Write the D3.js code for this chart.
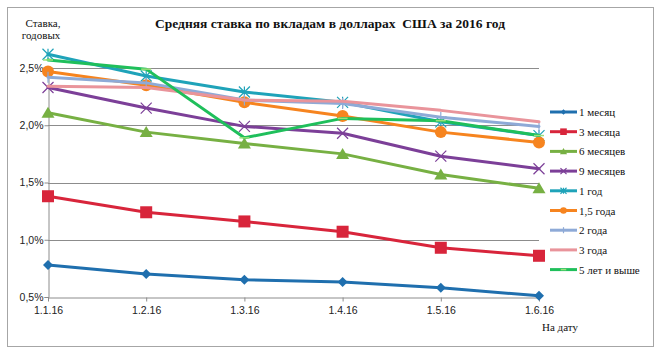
<!DOCTYPE html>
<html><head><meta charset="utf-8">
<script src="https://cdn.jsdelivr.net/npm/d3@7"></script>
<style>body{margin:0;background:#fff}svg{display:block}
.serif{font-family:"Liberation Serif","DejaVu Serif",serif}
.sans{font-family:"Liberation Sans",Arial,sans-serif}</style>
</head><body>
<script>
const categories = ["1.1.16","1.2.16","1.3.16","1.4.16","1.5.16","1.6.16"];
const seriesNames = ["1 месяц","3 месяца","6 месяцев","9 месяцев","1 год","1,5 года","2 года","3 года","5 лет и выше"];
const m1   = [0.78,0.70,0.65,0.63,0.58,0.51];
const m3   = [1.38,1.24,1.16,1.07,0.93,0.86];
const m6   = [2.11,1.94,1.84,1.75,1.57,1.45];
const m9   = [2.33,2.15,1.99,1.93,1.73,1.62];
const y1   = [2.62,2.43,2.29,2.20,2.03,1.91];
const y15  = [2.47,2.35,2.20,2.08,1.94,1.85];
const y2   = [2.42,2.37,2.22,2.19,2.07,1.99];
const y3   = [2.34,2.33,2.22,2.21,2.13,2.03];
const y5   = [2.57,2.49,1.89,2.06,2.04,1.91];
const yTicks = [0.5,1.0,1.5,2.0,2.5];
const seriesValues = [m1,m3,m6,m9,y1,y15,y2,y3,y5];
const colors = ["#1f6fae","#d8253b","#77b043","#7c3f98","#1fa3b9","#f6841f","#8eaad7","#e9949b","#1fbf5b"];
const markers = ["diamond","square","triangle","x","star","circle","plus","none","dash"];

const W=660,H=352;
const svg=d3.select("body").append("svg").attr("width",W).attr("height",H);
svg.append("rect").attr("x",7.5).attr("y",7.5).attr("width",646).attr("height",339)
  .attr("fill","#fff").attr("stroke","#a6a6a6").attr("stroke-width",1);

const x=d3.scalePoint().domain(categories).range([48,539]);
const y=d3.scaleLinear().domain([0.5,2.5]).range([297,68]);

// gridlines
svg.append("g").selectAll("line").data(yTicks.slice(1)).join("line")
  .attr("x1",48).attr("x2",539).attr("y1",d=>Math.round(y(d))+0.5).attr("y2",d=>Math.round(y(d))+0.5)
  .attr("stroke","#8c8c8c").attr("stroke-width",1);

// y axis
const ya=svg.append("g").attr("transform","translate(48.5,0)")
  .call(d3.axisLeft(y).tickValues(yTicks).tickSize(4).tickFormat(d=>d3.format(".1f")(d).replace(".",",")+"%"));
ya.select(".domain").attr("stroke","#8c8c8c");
ya.selectAll(".tick line").attr("stroke","#8c8c8c");
ya.selectAll(".tick text").attr("font-family",null).attr("class","sans").attr("font-size",10.5).attr("fill","#222").attr("x",-5);
ya.attr("font-family",null);

// x axis
const xa=svg.append("g").attr("transform","translate(0,297.5)")
  .call(d3.axisBottom(x).tickSize(4).tickSizeOuter(0));
xa.attr("font-family",null);
xa.select(".domain").attr("stroke","#8c8c8c");
xa.selectAll(".tick line").attr("stroke","#8c8c8c");
xa.selectAll(".tick text").attr("class","sans").attr("font-size",10.5).attr("fill","#222").attr("dy","0.9em");

// titles
svg.append("text").attr("class","serif").attr("x",330).attr("y",28).attr("text-anchor","middle")
  .attr("font-weight","bold").attr("font-size",13.5)
  .attr("fill","#111").attr("xml:space","preserve").style("white-space","pre").text("Средняя ставка по вкладам в долларах  США за 2016 год");
svg.append("text").attr("class","serif").attr("x",43).attr("y",27).attr("text-anchor","middle")
  .attr("font-size",11).attr("fill","#111").text("Ставка,");
svg.append("text").attr("class","serif").attr("x",41).attr("y",39).attr("text-anchor","middle")
  .attr("font-size",11).attr("fill","#111").text("годовых");
svg.append("text").attr("class","serif").attr("x",560).attr("y",331).attr("text-anchor","middle")
  .attr("font-size",11).attr("fill","#111").text("На дату");

function drawMarker(g,type,cx,cy,color,s){
  s=s||1;
  if(type==="diamond"){
    g.append("path").attr("d",`M${cx},${cy-5*s}L${cx+5*s},${cy}L${cx},${cy+5*s}L${cx-5*s},${cy}Z`).attr("fill",color);
  } else if(type==="square"){
    g.append("rect").attr("x",cx-6*s).attr("y",cy-6*s).attr("width",12*s).attr("height",12*s).attr("fill",color);
  } else if(type==="triangle"){
    g.append("path").attr("d",`M${cx},${cy-6*s}L${cx+6.5*s},${cy+5*s}L${cx-6.5*s},${cy+5*s}Z`).attr("fill",color);
  } else if(type==="x"){
    const r=5.5*s;
    g.append("path").attr("d",`M${cx-r},${cy-r}L${cx+r},${cy+r}M${cx-r},${cy+r}L${cx+r},${cy-r}`).attr("stroke",color).attr("stroke-width",1.2);
  } else if(type==="star"){
    const r=5.5*s;
    g.append("path").attr("d",`M${cx-r},${cy-r}L${cx+r},${cy+r}M${cx-r},${cy+r}L${cx+r},${cy-r}M${cx},${cy-r}L${cx},${cy+r}`).attr("stroke",color).attr("stroke-width",1.2);
  } else if(type==="circle"){
    g.append("circle").attr("cx",cx).attr("cy",cy).attr("r",6*s).attr("fill",color);
  } else if(type==="plus"){
    const r=5.5*s;
    g.append("path").attr("d",`M${cx},${cy-r}L${cx},${cy+r}`).attr("stroke",color).attr("stroke-width",1.2);
  } else if(type==="dash"){
    g.append("path").attr("d",`M${cx-5*s},${cy}L${cx+5*s},${cy}`).attr("stroke","#9be07a").attr("stroke-width",1.5);
  }
}

const line=d3.line().x((d,i)=>x(categories[i])).y(d=>y(d));
seriesValues.forEach((vals,si)=>{
  const g=svg.append("g");
  g.append("path").attr("d",line(vals)).attr("fill","none").attr("stroke",colors[si])
    .attr("stroke-width",3).attr("stroke-linejoin","round").attr("stroke-linecap","round");
  vals.forEach((v,i)=>drawMarker(g,markers[si],x(categories[i]),y(v),colors[si],1));
});

// legend
const lg=svg.append("g");
seriesNames.forEach((n,i)=>{
  const ly=112+i*19.7;
  lg.append("line").attr("x1",550).attr("x2",577).attr("y1",ly).attr("y2",ly).attr("stroke",colors[i]).attr("stroke-width",3);
  drawMarker(lg,markers[i],563.5,ly,colors[i],0.55);
  lg.append("text").attr("class","serif").attr("x",579).attr("y",ly+4)
    .attr("font-size",11).attr("fill","#111").text(n);
});
</script>
</body></html>
